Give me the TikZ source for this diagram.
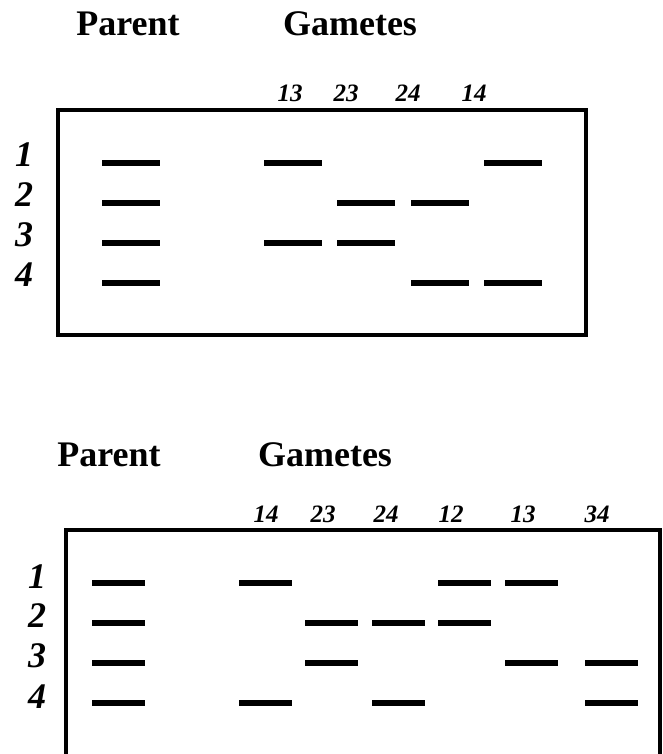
\documentclass[tikz,border=0pt]{standalone}
\usepackage{fontspec}
\setmainfont{Liberation Serif}
\usetikzlibrary{positioning}
\tikzset{
  band/.style={rectangle, fill=black, inner sep=0pt, minimum height=5.7pt},
  gelbox/.style={rectangle, draw=black, line width=3.2pt, inner sep=0pt},
  gelline/.style={line width=3.2pt, black},
  hdr/.style={font=\fontsize{36}{40}\selectfont\bfseries, inner sep=0pt},
  rowlab/.style={font=\fontsize{36}{40}\selectfont\bfseries\itshape, inner sep=0pt},
  collab/.style={font=\fontsize{25}{28}\selectfont\bfseries\itshape, inner sep=0pt},
}

\begin{document}
\begin{tikzpicture}[x=1pt, y=-1pt]
\useasboundingbox (0,0) rectangle (662,754);

% ---- upper gel: four gametes ----
\node[hdr] (parentA) at (128,23.5) {Parent};
\node[hdr] (gametesA) at (350,23.5) {Gametes};

\node[gelbox, minimum width=528pt, minimum height=225pt] (gelA) at (322,222.5) {};

\foreach \r/\y in {1/155, 2/195, 3/235, 4/275}{
  \node[rowlab] (rowA-\r) at (24,\y) {\r};
}
\foreach \lab/\xl in {13/290, 23/346, 24/408, 14/474}{
  \node[collab] (colA-\lab) at (\xl,93) {\lab};
}

% lane / centre / bands
\foreach \ln/\xc/\rows in {P/131/{1,2,3,4}, 13/292.5/{1,3}, 23/366/{2,3},
                           24/440/{2,4}, 14/513/{1,4}}{
  \foreach \r in \rows{
    \node[band, minimum width=58pt] (bandA-\ln-\r) at (\xc,{123+40*\r}) {};
  }
}

% ---- lower gel: six gametes ----
\node[hdr] (parentB) at (109,455) {Parent};
\node[hdr] (gametesB) at (325,455) {Gametes};

\begin{scope}
  \clip (0,0) rectangle (662,754);
  \draw[gelline] (66,800) -- (66,530) -- (660,530) -- (660,800);
\end{scope}

\foreach \r/\y in {1/577, 2/616, 3/656, 4/697}{
  \node[rowlab] (rowB-\r) at (37,\y) {\r};
}
\foreach \lab/\xl in {14/266, 23/323, 24/386, 12/451, 13/523, 34/597}{
  \node[collab] (colB-\lab) at (\xl,514.5) {\lab};
}

\foreach \ln/\xc/\rows in {P/118.5/{1,2,3,4}, 14/265/{1,4}, 23/331.5/{2,3},
                           24/398/{2,4}, 12/464.5/{1,2}, 13/531.5/{1,3},
                           34/611/{3,4}}{
  \foreach \r in \rows{
    \node[band, minimum width=53pt] (bandB-\ln-\r) at (\xc,{543+40*\r}) {};
  }
}

\end{tikzpicture}
\end{document}
